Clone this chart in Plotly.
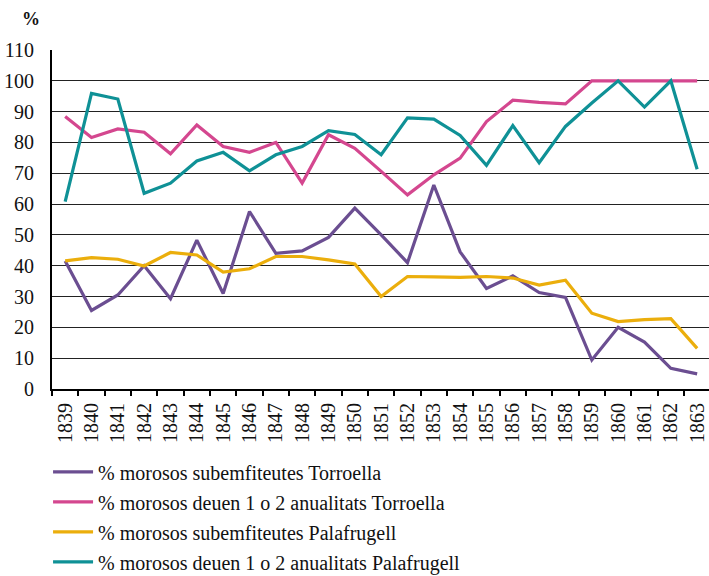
import plotly.graph_objects as go

years = [str(y) for y in range(1839, 1864)]

sub_torroella = [41.5, 25.5, 30.5, 40, 29.3, 48.3, 31, 57.6, 44, 44.8, 49.2, 58.7, 50, 41, 66.2, 44.5,
                 32.6, 36.7, 31.3, 29.7, 9.4, 20, 15.2, 6.7, 4.9]
deuen_torroella = [88.4, 81.6, 84.4, 83.3, 76.3, 85.7, 78.7, 76.8, 80, 66.8, 82.5, 78.1, 70.6, 63, 69.5, 74.9,
                   86.8, 93.7, 93, 92.5, 100, 100, 100, 100, 100]
sub_palafrugell = [41.6, 42.6, 42.1, 39.9, 44.3, 43.5, 37.9, 39, 43, 43, 41.9, 40.6, 30, 36.5, 36.4, 36.2,
                   36.5, 36, 33.7, 35.3, 24.6, 21.9, 22.5, 22.8, 13.2]
deuen_palafrugell = [60.8, 95.9, 94.1, 63.5, 66.8, 74, 76.8, 70.8, 76, 78.7, 83.8, 82.6, 76, 88, 87.6, 82.3,
                     72.6, 85.5, 73.4, 85.2, 92.8, 100, 91.5, 100, 71.3]

series_names = [
    "% morosos subemfiteutes Torroella",
    "% morosos deuen 1 o 2 anualitats Torroella",
    "% morosos subemfiteutes Palafrugell",
    "% morosos deuen 1 o 2 anualitats Palafrugell",
]
series_values = [sub_torroella, deuen_torroella, sub_palafrugell, deuen_palafrugell]
series_colors = ["#6B4E91", "#D4478F", "#EBAE0C", "#0F9196"]

y_ticks = list(range(0, 111, 10))

FONT = "Liberation Serif"

fig = go.Figure()
for i, (name, vals, col) in enumerate(zip(series_names, series_values, series_colors)):
    fig.add_trace(go.Scatter(x=years, y=vals, mode="lines", name=name, legendgroup=f"g{i}",
                             line=dict(color=col, width=3.2)))

fig.update_layout(
    width=709, height=576,
    margin=dict(l=52, r=0, t=50, b=187, autoexpand=False),
    paper_bgcolor="white", plot_bgcolor="white",
    font=dict(family=FONT, size=20, color="#111"),
    showlegend=True,
    legend=dict(x=-0.006, xanchor="left", y=-0.187, yanchor="top",
                font=dict(family=FONT, size=20, color="#111"),
                itemwidth=40, tracegroupgap=1, bgcolor="rgba(0,0,0,0)"),
)

fig.update_xaxes(
    type="category", categoryorder="array", categoryarray=years,
    range=[-0.5, 24.45], automargin=False,
    tickangle=-90, ticks="outside", tickson="boundaries", ticklen=5,
    tickcolor="black", tickwidth=1.5, ticklabelstandoff=4,
    showline=True, linecolor="black", linewidth=2,
    showgrid=False, tickfont=dict(family=FONT, size=20, color="#111"),
)
fig.update_yaxes(
    range=[0, 110], tickvals=y_ticks, ticktext=[str(v) for v in y_ticks],
    automargin=False,
    showgrid=True, gridcolor="#222", gridwidth=1.2,
    showline=True, linecolor="black", linewidth=2,
    ticks="outside", ticklen=12, tickcolor="rgba(0,0,0,0)",
    zeroline=False, tickfont=dict(family=FONT, size=20, color="#111"),
)

fig.add_annotation(text="<b>%</b>", xref="paper", yref="paper", x=-0.032, y=1.09,
                   xanchor="center", yanchor="middle", showarrow=False,
                   font=dict(family=FONT, size=18, color="#111"))

fig.write_html("out.html", config={"displayModeBar": False},
               post_script="document.body.style.margin='0';document.body.style.overflow='hidden';")
